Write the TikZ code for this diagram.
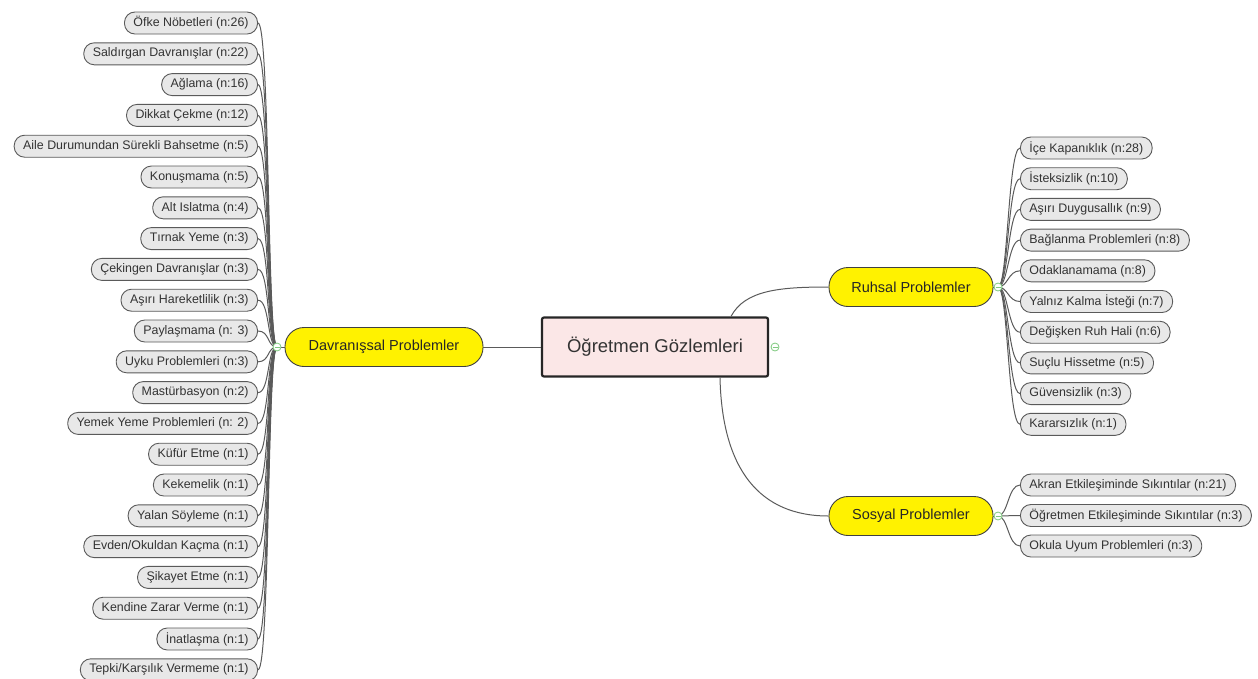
\documentclass[tikz,border=0pt]{standalone}
\usepackage{fontspec}
\setmainfont{Liberation Sans}
\usetikzlibrary{calc,positioning}

\definecolor{leafgray}{HTML}{E8E8E8}
\definecolor{linegray}{HTML}{5A5A5A}
\definecolor{rootpink}{HTML}{FBE7E7}
\definecolor{hubgreen}{HTML}{7FC97F}

\tikzset{
  leaf/.style={draw=linegray, fill=leafgray, rounded corners=10.5pt, minimum height=22pt,
    inner xsep=9pt, inner ysep=0pt, text=black!80, font=\fontsize{12.4}{13}\selectfont, line width=0.9pt},
  topic/.style={draw=black!75, fill=yellow, rounded corners=19pt, minimum height=39pt,
    font=\fontsize{14.5}{16}\selectfont, text=black!85, line width=0.9pt},
  rootbox/.style={draw=black!85, fill=rootpink, rounded corners=2pt, minimum width=226pt,
    minimum height=59pt, font=\fontsize{18.5}{20}\selectfont, text=black!80, line width=2.2pt},
  branch/.style={draw=linegray, line width=1pt},
  hub/.style={draw=hubgreen, fill=white, line width=0.8pt}
}

\begin{document}
\begin{tikzpicture}[x=1pt,y=-1pt]
\useasboundingbox (0,0) rectangle (1258,678);

\node[rootbox] (root) at (655,347) {Öğretmen Gözlemleri};
\node[topic, minimum width=198pt] (dav) at (384,347) {Davranışsal Problemler};
\node[topic, minimum width=164pt] (ruh) at (911,287) {Ruhsal Problemler};
\node[topic, minimum width=164pt] (sos) at (911,516) {Sosyal Problemler};

\coordinate (hubL) at (277,347);
\coordinate (hubR) at (998,287);
\coordinate (hubS) at (998,516);
\coordinate (hubC) at (775,347);

% main branches
\draw[branch] (dav.east) -- (root.west);
\draw[branch] ($(root.north)+(76,0)$) .. controls (745,290) and (780,287) .. (ruh.west);
\draw[branch] ($(root.south)+(65,0)$) .. controls (722,470) and (760,516) .. (sos.west);

% behavioural
\foreach \t [count=\i] in
  {Öfke Nöbetleri (n:26),
   Saldırgan Davranışlar (n:22),
   Ağlama (n:16),
   Dikkat Çekme (n:12),
   Aile Durumundan Sürekli Bahsetme (n:5),
   Konuşmama (n:5),
   Alt Islatma (n:4),
   Tırnak Yeme (n:3),
   Çekingen Davranışlar (n:3),
   Aşırı Hareketlilik (n:3),
   Paylaşmama (n: 3),
   Uyku Problemleri (n:3),
   Mastürbasyon (n:2),
   Yemek Yeme Problemleri (n: 2),
   Küfür Etme (n:1),
   Kekemelik (n:1),
   Yalan Söyleme (n:1),
   Evden/Okuldan Kaçma (n:1),
   Şikayet Etme (n:1),
   Kendine Zarar Verme (n:1),
   İnatlaşma (n:1),
   Tepki/Karşılık Vermeme (n:1)}
{
  \node[leaf, anchor=east] (l\i) at (258,{23+(\i-1)*30.8}) {\t};
  \draw[branch] (hubL) .. controls ($(hubL)+(-10,0)$) and ($(l\i.east)+(12,0)$) .. (l\i.east);
}

% mental
\foreach \t [count=\i] in
  {İçe Kapanıklık (n:28),
   İsteksizlik (n:10),
   Aşırı Duygusallık (n:9),
   Bağlanma Problemleri (n:8),
   Odaklanamama (n:8),
   Yalnız Kalma İsteği (n:7),
   Değişken Ruh Hali (n:6),
   Suçlu Hissetme (n:5),
   Güvensizlik (n:3),
   Kararsızlık (n:1)}
{
  \node[leaf, anchor=west] (r\i) at (1020,{148+(\i-1)*30.7}) {\t};
  \draw[branch] (hubR) .. controls ($(hubR)+(10,0)$) and ($(r\i.west)+(-12,0)$) .. (r\i.west);
}

% social
\foreach \t [count=\i] in
  {Akran Etkileşiminde Sıkıntılar (n:21),
   Öğretmen Etkileşiminde Sıkıntılar (n:3),
   Okula Uyum Problemleri (n:3)}
{
  \node[leaf, anchor=west] (s\i) at (1020,{485+(\i-1)*30.5}) {\t};
  \draw[branch] (hubS) .. controls ($(hubS)+(10,0)$) and ($(s\i.west)+(-12,0)$) .. (s\i.west);
}

\draw[branch] (ruh.east) -- (hubR);
\draw[branch] (sos.east) -- (hubS);
\draw[branch] (dav.west) -- (hubL);

% collapse markers
\foreach \v in {hubL,hubR,hubS,hubC}
{
  \draw[hub] (\v) circle (4pt);
  \draw[hubgreen, line width=0.8pt] ($(\v)+(-2.5,0)$) -- ($(\v)+(2.5,0)$);
};
\end{tikzpicture}
\end{document}
